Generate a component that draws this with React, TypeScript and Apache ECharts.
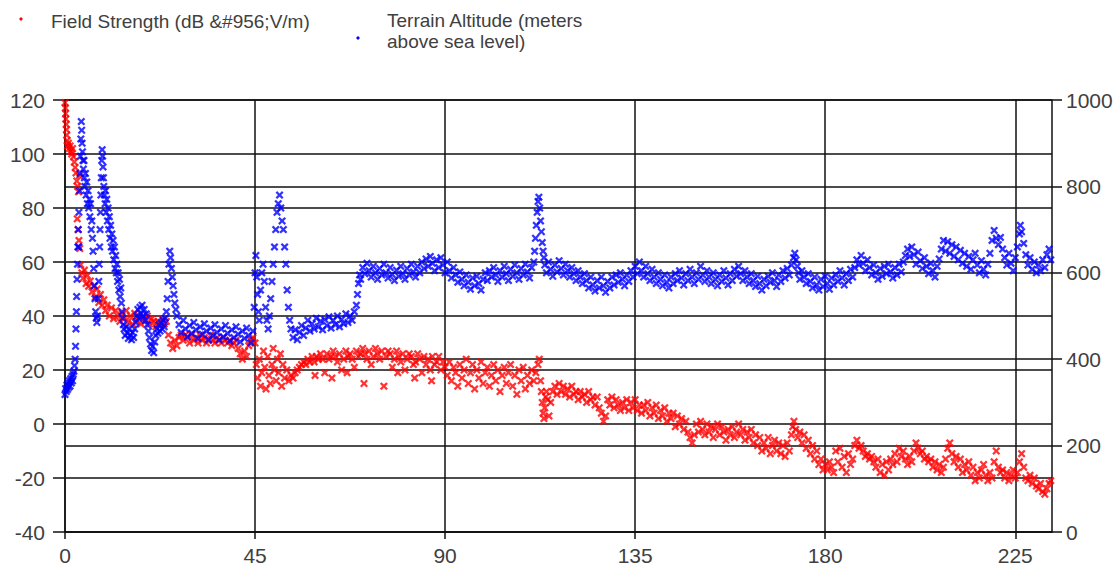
import React, { useEffect, useRef } from "react";
import * as echarts from "echarts";

const xTicks = [0, 45, 90, 135, 180, 225];
const legendNames = ["Field Strength (dB &#956;V/m)", "Terrain Altitude (meters\nabove sea level)"];

// [distance km, field strength dB µV/m]
const fieldStrength: [number, number][] = [
  [0,119],[0.1,117],[0.15,115],[0.2,113],[0.3,111],[0.35,109],[0.4,107],[0.5,105],[0.6,103],[0.8,104],[1,102],[1.2,103],[1.4,101],[1.6,100],[1.8,102],[2,99],[2.2,97],[2.4,95],[2.6,93],[2.8,90],[3,88],[3.2,86],[3.4,92],[2.9,76],[3.1,72],[3.3,68],[3.5,65],[3.7,59],[4,56],[4.3,54],[4.6,57],[5,52],[5.3,55],[5.6,51],[6,53],[6.4,49],[6.8,51],[7.2,47],[7.6,50],[8,45],[8.4,48],[8.8,44],[9.2,46],[9.6,42],[10,44],[10.5,40],[11,43],[11.5,39],[12,42],[12.5,40],[13,38],[13.5,41],[14,39],[14.5,42],[15,38],[15.5,40],[16,37],[16.5,41],[17,38],[17.5,40],[18,37],[18.5,39],[19,38],[19.5,40],[20,37],[20.5,39],[21,38],[21.5,36],[22,38],[22.5,37],[23,39],[23.5,37],[24,38],[24.5,33],[25,30],[25.5,28],[26,31],[26.5,29],[27,32],[27.5,33],[28,31],[28.5,33],[29,32],[29.5,30],[30,33],[30.5,31],[31,32],[31.5,30],[32,33],[32.5,31],[33,32],[33.5,30],[34,31],[34.5,33],[35,31],[35.5,30],[36,32],[36.5,31],[37,30],[37.5,32],[38,31],[38.5,30],[39,31],[39.5,29],[40,30],[40.5,31],[41,28],[41.5,26],[42,24],[42.5,27],[43,25],[43.5,29],[44,31],[44.5,32],
  [45,30],[45.3,22],[45.6,17],[46,24],[46.3,14],[46.6,19],[47,27],[47.3,21],[47.6,13],[48,25],[48.3,18],[48.6,15],[49,22],[49.3,28],[49.6,20],[50,16],[50.3,24],[50.6,19],[51,26],[51.3,14],[51.6,22],[52,17],[52.5,20],[53,16],[53.5,18],[54,17],[54.5,19],[55,20],[55.5,21],[56,22],[56.5,23],
  [57,22],[57.5,24],[58,23],[58.5,25],[59,23],[59.2,18],[59.5,25],[60,24],[60.5,26],[61,24],[61.5,19],[62,26],[62.5,24],[63,25],[63.2,17],[63.5,27],[64,25],[64.5,23],[65,26],[65.5,20],[66,24],[66.5,27],[66.8,19],[67,25],[67.5,26],[68,24],[68.5,21],[69,27],[69.5,25],[70,26],[70.5,28],[70.8,15],[71,26],[71.5,24],[72,27],[72.5,22],[73,25],[73.5,28],[74,26],[74.5,24],[75,27],[75.5,14],[76,25],[76.5,27],[77,26],[77.5,21],[78,24],[78.5,27],[78.8,19],[79,25],[79.5,23],[80,26],[80.5,20],[81,24],[81.5,26],[82,25],[82.5,22],[82.8,17],[83,23],[83.5,26],[84,24],[84.5,19],[85,25],[85.5,22],[86,24],[86.5,20],[86.8,16],[87,25],[87.5,22],[88,23],[88.5,25],[89,20],[89.5,23],[90,21],
  [90.5,18],[91,23],[91.5,16],[92,21],[92.5,19],[93,14],[93.5,22],[94,17],[94.5,20],[95,24],[95.5,15],[96,19],[96.5,22],[97,13],[97.5,20],[98,17],[98.5,23],[99,15],[99.5,19],[100,21],[100.5,14],[101,18],[101.5,22],[102,16],[102.5,20],[103,12],[103.5,18],[104,21],[104.5,15],[105,19],[105.5,22],[106,14],[106.5,18],[107,11],[107.5,20],[108,16],[108.5,21],[109,13],[109.5,18],[110,15],[110.5,20],[111,16],[111.5,19],[112,22],[112.3,24],
  [112.6,16],[112.8,12],[113,8],[113.2,4],[113.4,2],[113.6,6],[113.8,10],[114,12],[114.3,9],[114.6,3],
  [115,8],[115.5,12],[116,14],[116.5,11],[117,15],[117.5,12],[118,14],[118.5,11],[119,13],[119.5,10],[120,14],[120.5,11],[121,12],[121.5,9],[122,12],[122.5,10],[123,11],[123.5,8],[124,12],[124.5,9],[125,10],[125.5,7],[126,10],[126.5,6],[127,4],[127.5,1],[128,3],[128.5,9],[129,7],[129.5,10],[130,6],[130.5,9],[131,7],[131.5,5],[132,8],[132.5,6],[133,9],[133.5,5],[134,8],[134.5,6],[135,9],[135.5,5],[136,7],[136.5,4],[137,7],[137.5,5],[138,8],[138.5,3],[139,6],[139.5,4],[140,7],[140.5,2],[141,5],[141.5,3],[142,6],[142.5,1],[143,4],[143.5,2],[144,4],[144.5,-1],[145,3],[145.5,0],[146,2],[146.5,-2],[147,1],[147.5,-3],[148,-5],[148.5,-7],[149,-4],[149.5,0],[150,-3],[150.5,1],[151,-2],[151.5,-4],[152,0],[152.5,-3],[153,-1],[153.5,-5],[154,-2],[154.5,0],[155,-4],[155.5,-1],[156,-3],[156.5,-6],[157,-2],[157.5,-4],[158,-1],[158.5,-5],[159,-3],[159.5,0],[160,-4],[160.5,-2],[161,-6],[161.5,-3],[162,-5],[162.5,-2],[163,-7],[163.5,-4],
  [164,-8],[164.5,-5],[165,-10],[165.5,-7],[166,-9],[166.5,-5],[167,-11],[167.5,-8],[168,-6],[168.5,-10],[169,-7],[169.5,-11],[170,-8],[170.5,-12],[171,-7],[171.5,-10],[172,-4],[172.3,-1],[172.6,1],[173,-2],[173.5,-5],[174,-3],[174.5,-7],[175,-4],[175.5,-9],[176,-6],[176.5,-11],[177,-8],[177.5,-13],[178,-10],[178.5,-15],[179,-13],[179.5,-17],[180,-15],[180.5,-17],[181,-14],[181.5,-16],[182,-18],[182.5,-10],[183,-14],[183.5,-9],[184,-16],[184.5,-12],[185,-18],[185.5,-11],[186,-15],[186.5,-13],[187,-8],[187.5,-6],[188,-9],[188.5,-8],[189,-10],[189.5,-12],[190,-11],[190.5,-13],[191,-12],[191.5,-14],[192,-16],[192.5,-13],[193,-18],[193.5,-15],[194,-19],[194.5,-14],[195,-17],[195.5,-13],[196,-15],[196.5,-11],[197,-14],[197.5,-9],[198,-12],[198.5,-10],[199,-13],[199.5,-15],[200,-12],[200.5,-14],[201,-10],[201.5,-7],[202,-9],[202.5,-11],[203,-10],[203.5,-13],[204,-12],[204.5,-14],[205,-13],[205.5,-16],[206,-14],[206.5,-17],[207,-15],[207.5,-18],[208,-16],[208.5,-13],[209,-9],[209.5,-7],[210,-11],[210.5,-14],[211,-12],[211.5,-16],[212,-13],[212.5,-18],[213,-15],[213.5,-17],[214,-14],[214.5,-19],[215,-16],[215.5,-21],[216,-18],[216.5,-20],[217,-17],[217.5,-15],[218,-19],[218.5,-21],[219,-18],[219.5,-20],[220,-14],[220.5,-10],[221,-16],[221.5,-18],[222,-17],[222.5,-20],[223,-18],[223.5,-21],[224,-19],[224.5,-17],[225,-20],[225.5,-18],[226,-14],[226.5,-11],[227,-16],[227.5,-20],[228,-21],[228.5,-19],[229,-22],[229.5,-20],[230,-23],[230.5,-24],[231,-22],[231.5,-25],[232,-26],[232.5,-24],[233,-22],[233.4,-21]
];

// [distance km, terrain altitude m]
const terrainAltitude: [number, number][] = [
  [0,318],[0.15,332],[0.3,325],[0.45,340],[0.6,330],[0.75,345],[0.9,335],[1.05,350],[1.2,338],[1.35,355],[1.5,345],[1.65,360],[1.8,350],[1.95,365],[2.1,372],[2.25,385],[2.4,400],
  [2.5,430],[2.6,470],[2.7,510],[2.75,545],[2.85,585],[2.95,620],[3.05,660],[3.15,700],[3.25,660],[3.3,740],[3.45,790],[3.55,830],[3.65,870],[3.75,910],[3.85,950],[3.95,930],[4.05,900],[4.15,880],[4.25,860],[4.35,840],[4.5,860],[4.6,820],[4.7,800],[4.85,830],[5,780],[5.15,810],[5.3,760],[5.45,790],[5.6,750],[5.75,770],[5.9,730],[6.05,760],[6.2,700],[6.35,720],[6.5,680],[6.65,650],[6.8,610],[6.95,570],[7.1,540],[7.25,510],[7.4,495],[7.55,485],[7.7,500],[7.85,540],[8,580],[8.1,620],[8.2,660],[8.3,700],[8.4,740],[8.5,780],[8.6,820],[8.7,860],[8.8,885],[8.9,870],[9,845],[9.1,820],[9.2,800],[9.35,780],[9.5,760],[9.6,790],[9.75,740],[9.9,770],[10.05,720],[10.2,750],[10.35,700],[10.5,730],[10.65,680],[10.8,710],[10.95,660],[11.1,690],[11.25,650],[11.4,675],[11.55,630],[11.7,660],[11.85,610],[12,640],[12.15,600],[12.3,620],[12.45,580],[12.6,600],[12.75,560],[12.9,585],[13.05,545],[13.2,565],[13.35,530],[13.5,510],[13.65,495],[13.8,480],[14,470],[14.25,455],[14.5,475],[14.75,460],[15,448],[15.25,470],[15.5,455],[15.75,445],[16,462],[16.25,450],[16.5,470],[16.75,485],[17,500],[17.25,515],[17.5,495],[17.75,520],[18,505],[18.25,525],[18.5,500],[18.75,515],[19,490],[19.25,505],[19.5,480],[19.75,465],[20,450],[20.25,435],[20.5,420],[20.75,430],[21,415],[21.25,440],[21.5,455],[21.75,470],[22,460],[22.25,480],[22.5,465],[22.75,485],[23,470],[23.25,490],[23.5,475],[23.75,495],[24,510],[24.2,540],[24.4,580],[24.6,620],[24.8,650],[25,635],[25.2,610],[25.4,590],[25.6,570],[25.8,550],[26,530],[26.25,515],[26.5,500],
  [27,480],[27.5,462],[28,490],[28.5,470],[29,452],[29.5,478],[30,460],[30.5,485],[31,468],[31.5,448],[32,475],[32.5,458],[33,482],[33.5,465],[34,445],[34.5,472],[35,455],[35.5,480],[36,462],[36.5,445],[37,470],[37.5,452],[38,478],[38.5,460],[39,442],[39.5,468],[40,450],[40.5,475],[41,458],[41.5,440],[42,465],[42.5,448],[43,472],[43.5,455],[44,438],[44.5,465],
  [44.8,520],[45,600],[45.2,640],[45.4,590],[45.6,550],[45.8,510],[46,490],[46.3,560],[46.6,600],[46.9,620],[47.2,580],[47.5,520],[47.8,490],[48.1,470],[48.4,500],[48.7,540],[49,580],[49.3,620],[49.6,660],[49.9,700],[50.2,740],[50.5,760],[50.8,780],[51.1,750],[51.4,720],[51.7,700],[52,660],[52.3,620],[52.6,560],[52.9,520],[53.2,490],
  [53.5,470],[54,450],[54.5,468],[55,445],[55.5,462],[56,478],[56.5,455],[57,472],[57.5,490],[58,465],[58.5,482],[59,470],[59.5,495],[60,475],[60.5,488],[61,468],[61.5,492],[62,478],[62.5,498],[63,472],[63.5,490],[64,480],[64.5,500],[65,475],[65.5,492],[66,482],[66.5,505],[67,485],[67.5,500],[68,490],[68.5,510],[69,525],[69.25,550],[69.5,575],[69.75,595],[70,585],
  [70.5,612],[71,598],[71.5,622],[72,605],[72.5,590],[73,615],[73.5,600],[74,585],[74.5,610],[75,595],[75.5,620],[76,600],[76.5,588],[77,612],[77.5,596],[78,582],[78.5,606],[79,592],[79.5,615],[80,598],[80.5,585],[81,610],[81.5,595],[82,620],[82.5,602],[83,590],[83.5,615],[84,600],[84.5,625],[85,610],[85.5,632],[86,615],[86.5,638],[87,622],[87.5,605],[88,630],[88.5,612],[89,635],[89.5,618],[90,600],[90.5,625],[91,605],[91.5,588],[92,612],[92.5,595],[93,578],[93.5,602],[94,585],[94.5,570],[95,595],[95.5,578],[96,562],[96.5,588],[97,570],[97.5,592],[98,575],[98.5,560],[99,585],[99.5,600],[100,582],[100.5,605],[101,590],[101.5,612],[102,595],[102.5,580],[103,605],[103.5,590],[104,615],[104.5,598],[105,582],[105.5,608],[106,592],[106.5,618],[107,600],[107.5,585],[108,610],[108.5,595],[109,620],[109.5,602],[110,588],[110.5,612],
  [111,625],[111.2,650],[111.4,680],[111.6,710],[111.8,740],[112,765],[112.2,775],[112.4,750],[112.6,720],[112.8,695],[113,670],[113.2,650],[113.4,635],[113.6,618],
  [114,600],[114.5,625],[115,608],[115.5,592],[116,618],[116.5,602],[117,628],[117.5,610],[118,595],[118.5,620],[119,605],[119.5,590],[120,612],[120.5,598],[121,582],[121.5,605],[122,590],[122.5,575],[123,598],[123.5,582],[124,565],[124.5,590],[125,572],[125.5,558],[126,582],[126.5,565],[127,590],[127.5,570],[128,555],[128.5,580],[129,565],[129.5,590],[130,572],[130.5,595],[131,578],[131.5,600],[132,585],[132.5,570],[133,595],[133.5,580],[134,605],[134.5,590],[135,615],[135.5,598],[136,625],[136.5,605],[137,590],[137.5,615],[138,598],[138.5,582],[139,608],[139.5,590],[140,575],[140.5,600],[141,585],[141.5,570],[142,595],[142.5,578],[143,565],[143.5,590],[144,575],[144.5,598],[145,582],[145.5,605],[146,588],[146.5,572],[147,598],[147.5,582],[148,608],[148.5,590],[149,575],[149.5,600],[150,585],[150.5,615],[151,595],[151.5,580],[152,605],[152.5,590],[153,575],[153.5,600],[154,585],[154.5,570],[155,595],[155.5,580],[156,605],[156.5,588],[157,572],[157.5,598],[158,582],[158.5,608],[159,592],[159.5,615],[160,598],[160.5,582],[161,605],[161.5,590],[162,575],[162.5,598],[163,582],[163.5,568],[164,592],[164.5,575],[165,560],[165.5,585],[166,570],[166.5,592],[167,578],[167.5,600],[168,582],[168.5,568],[169,595],[169.5,580],[170,605],[170.5,588],[171,610],[171.5,595],[172,618],[172.5,635],[172.8,645],[173.1,630],[173.4,615],[173.7,600],
  [174,585],[174.5,605],[175,590],[175.5,575],[176,598],[176.5,580],[177,565],[177.5,590],[178,572],[178.5,560],[179,585],[179.5,568],[180,592],[180.5,575],[181,562],[181.5,588],[182,572],[182.5,595],[183,580],[183.5,605],[184,588],[184.5,572],[185,598],[185.5,582],[186,608],[186.5,590],[187,612],[187.5,630],[188,618],[188.5,640],[189,622],[189.5,605],[190,630],[190.5,612],[191,595],[191.5,618],[192,600],[192.5,585],[193,610],[193.5,592],[194,615],[194.5,598],[195,620],[195.5,602],[196,588],[196.5,612],[197,595],[197.5,620],[198,602],[198.5,625],[199,640],[199.5,655],[200,638],[200.5,660],[201,642],[201.5,620],[202,648],[202.5,628],[203,610],[203.5,635],[204,615],[204.5,598],[205,622],[205.5,605],[206,590],[206.5,615],[207,632],[207.5,655],[208,675],[208.5,650],[209,672],[209.5,645],[210,665],[210.5,638],[211,660],[211.5,630],[212,652],[212.5,622],[213,645],[213.5,615],[214,638],[214.5,608],[215,630],[215.5,645],[216,618],[216.5,600],[217,628],[217.5,608],[218,595],[218.5,620],[219,645],[219.5,675],[220,698],[220.5,680],[221,665],[221.5,682],[222,655],[222.5,635],[223,618],[223.5,645],[224,622],[224.5,605],[225,635],[225.5,660],[226,690],[226.2,710],[226.5,695],[227,668],[227.5,642],[228,618],[228.5,635],[229,608],[229.5,625],[230,600],[230.5,618],[231,605],[231.5,630],[232,612],[232.5,642],[233,655],[233.4,630]
];

const CROSS = "path://M0,2L2,0L5,3L8,0L10,2L7,5L10,8L8,10L5,7L2,10L0,8L3,5Z";
const FONT = "'Liberation Sans', Arial, sans-serif";
const TEXT_COLOR = "#404040";
const LINE = { color: "#111", width: 1.5 };

export default function App() {
  const ref = useRef<HTMLDivElement>(null);
  useEffect(() => {
    if (!ref.current) return;
    const chart = echarts.init(ref.current, null, { renderer: "svg" });
    chart.setOption({
      animation: false,
      backgroundColor: "#fff",
      textStyle: { fontFamily: FONT },
      grid: { left: 65, right: 65, top: 100, bottom: 37 },
      graphic: [
        { type: "circle", shape: { cx: 21, cy: 19, r: 1.6 }, style: { fill: "#ff0000" } },
        { type: "text", x: 51, y: 21, style: { text: legendNames[0], fill: TEXT_COLOR, font: `19px ${FONT}`, textVerticalAlign: "middle" } },
        { type: "circle", shape: { cx: 358, cy: 38, r: 1.6 }, style: { fill: "#0000ff" } },
        { type: "text", x: 387, y: 10, style: { text: legendNames[1], fill: TEXT_COLOR, font: `19px ${FONT}`, lineHeight: 21, textVerticalAlign: "top" } },
      ],
      xAxis: {
        type: "value",
        min: 0,
        max: 233.7,
        interval: 45,
        axisLine: { show: true, onZero: false, lineStyle: LINE },
        axisTick: { show: true, length: 7, lineStyle: LINE, customValues: xTicks },
        axisLabel: { customValues: xTicks, margin: 13, fontSize: 21, color: TEXT_COLOR, fontFamily: FONT },
        splitLine: { show: true, lineStyle: LINE },
      },
      yAxis: [
        {
          type: "value",
          position: "left",
          min: -40,
          max: 120,
          interval: 20,
          axisLine: { show: true, onZero: false, lineStyle: LINE },
          axisTick: { show: true, length: 12, lineStyle: LINE },
          axisLabel: { margin: 20, fontSize: 21, color: TEXT_COLOR, fontFamily: FONT },
          splitLine: { show: true, lineStyle: LINE },
        },
        {
          type: "value",
          position: "right",
          min: 0,
          max: 1000,
          interval: 200,
          axisLine: { show: true, onZero: false, lineStyle: LINE },
          axisTick: { show: true, length: 10, lineStyle: LINE },
          axisLabel: { margin: 14, fontSize: 21, color: TEXT_COLOR, fontFamily: FONT, formatter: (v: number) => String(v) },
          splitLine: { show: true, lineStyle: LINE },
        },
      ],
      series: [
        {
          name: "Field Strength",
          type: "scatter",
          yAxisIndex: 0,
          data: fieldStrength,
          symbol: CROSS,
          symbolSize: 8,
          itemStyle: { color: "#ff0000" },
          z: 2,
        },
        {
          name: "Terrain Altitude",
          type: "scatter",
          yAxisIndex: 1,
          data: terrainAltitude,
          symbol: CROSS,
          symbolSize: 8,
          itemStyle: { color: "#0000ff" },
          z: 3,
        },
      ],
    });
    return () => chart.dispose();
  }, []);
  return <div ref={ref} style={{ width: 1117, height: 569, position: "absolute", left: 0, top: 0 }} />;
}
